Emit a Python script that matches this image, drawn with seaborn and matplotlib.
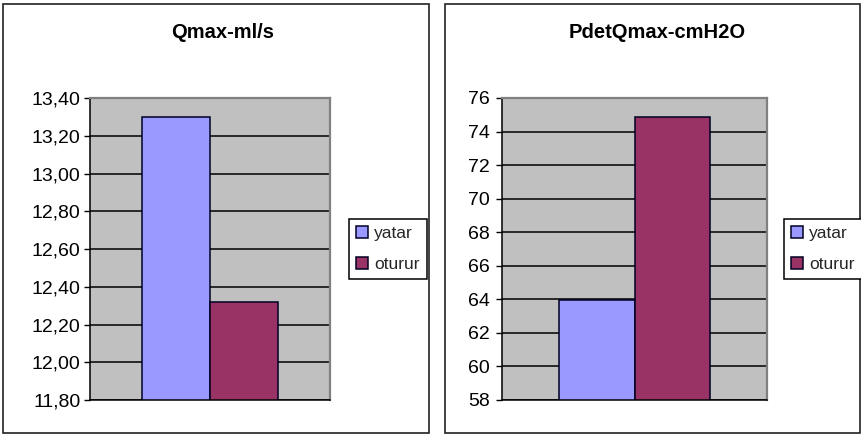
import matplotlib
matplotlib.use("Agg")
import matplotlib.pyplot as plt
from matplotlib.patches import Rectangle
from matplotlib.ticker import FuncFormatter
import seaborn as sns
import pandas as pd

# Series and values
groups = ["yatar", "oturur"]
qmax_values = [13.30, 12.32]
pdet_values = [63.96, 74.87]
titles = ["Qmax-ml/s", "PdetQmax-cmH2O"]
qmax_ticks = [11.80, 12.00, 12.20, 12.40, 12.60, 12.80, 13.00, 13.20, 13.40]
pdet_ticks = [58, 60, 62, 64, 66, 68, 70, 72, 74, 76]
colors = ["#9999FF", "#993366"]

sns.set_theme(style="white")
plt.rcParams["font.family"] = ["Liberation Sans", "DejaVu Sans"]

W, H = 861, 436
fig = plt.figure(figsize=(W / 100, H / 100), dpi=100)
fig.patch.set_facecolor("white")


def fx(px):
    return px / W


def fy(py):
    return 1 - py / H


# Panel frames
for x0, x1 in [(3, 429), (445, 860)]:
    fig.patches.append(Rectangle((fx(x0), fy(433)), fx(x1 - x0), (433 - 4) / H,
                                 transform=fig.transFigure, fill=False,
                                 edgecolor="#222222", linewidth=1.2, zorder=0))


def panel(ax_px, values, ticks, fmt, title, title_x, legend_x, pad):
    x0, x1, ytop, ybot = ax_px
    ax = fig.add_axes([fx(x0), fy(ybot), fx(x1 - x0), (ybot - ytop) / H])
    df = pd.DataFrame({"cat": [""] * len(groups), "grupo": groups, "deger": values})
    sns.barplot(data=df, x="cat", y="deger", hue="grupo", palette=colors,
                saturation=1, width=0.57, edgecolor="#000022", linewidth=1.1,
                errorbar=None, ax=ax, legend=True)
    ax.set_facecolor("#C0C0C0")
    ax.set_xlim(-0.5, 0.5)
    ax.set_ylim(ticks[0], ticks[-1])
    ax.set_yticks(ticks)
    ax.yaxis.set_major_formatter(FuncFormatter(fmt))
    ax.set_axisbelow(True)
    ax.grid(axis="y", color="black", linewidth=1.1)
    ax.grid(axis="x", visible=False)
    ax.set_xlabel("")
    ax.set_ylabel("")
    ax.set_xticks([])
    ax.tick_params(axis="y", left=True, length=4, width=1, color="black",
                   direction="out", pad=pad, labelsize=14, labelcolor="black")
    for s in ["left", "bottom"]:
        ax.spines[s].set_color("black")
        ax.spines[s].set_linewidth(1.1)
    for s in ["top", "right"]:
        ax.spines[s].set_color("#808080")
        ax.spines[s].set_linewidth(1.6)
    handles, labels = ax.get_legend_handles_labels()
    ax.get_legend().remove()
    leg = fig.legend(handles, labels, loc="center left",
                     bbox_to_anchor=(fx(legend_x), fy(249)),
                     bbox_transform=fig.transFigure, frameon=True,
                     fancybox=False, framealpha=1, edgecolor="black",
                     fontsize=12.5, handlelength=0.7, handleheight=0.7,
                     handletextpad=0.35, labelspacing=0.95, borderpad=0.4,
                     borderaxespad=0)
    leg.get_frame().set_linewidth(1.1)
    fig.text(fx(title_x), fy(33), title, ha="center", va="center",
             fontsize=14.5, fontweight="bold", color="black")
    return ax


panel((90, 330, 98, 400), qmax_values, qmax_ticks,
      lambda v, p: f"{v:.2f}".replace(".", ","), titles[0], 223, 349, 3)
panel((502, 767, 98, 400), pdet_values, pdet_ticks,
      lambda v, p: f"{v:.0f}", titles[1], 657, 784, 5)

fig.savefig("out.png", dpi=100, facecolor="white")
